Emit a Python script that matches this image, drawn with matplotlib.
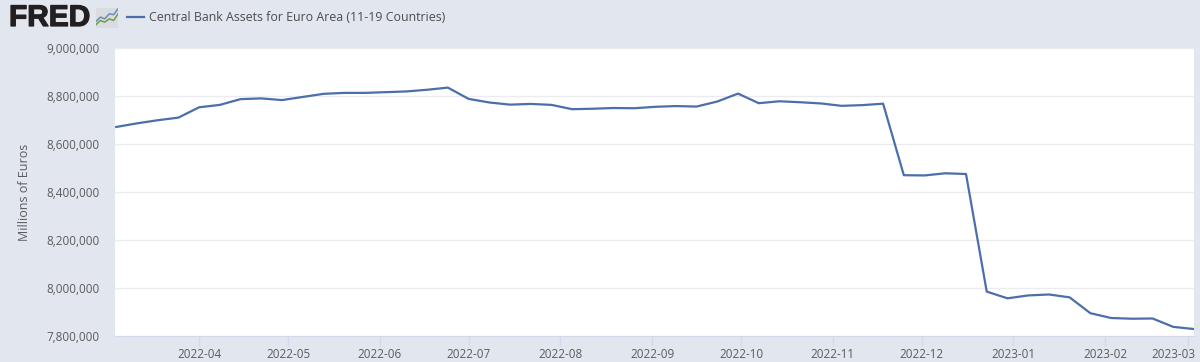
import numpy as np
import pandas as pd
import matplotlib
matplotlib.use("Agg")
import matplotlib.pyplot as plt
import matplotlib.dates as mdates
import matplotlib.patheffects as pe
from matplotlib.ticker import FuncFormatter
from matplotlib.transforms import ScaledTranslation

plt.rcParams['font.family'] = ['Open Sans', 'DejaVu Sans']

# weekly values, millions of euros, first date 2022-03-04
start_date = "2022-03-04"
assets = [8671, 8686, 8699, 8710, 8753, 8763, 8787, 8790, 8783, 8796,
          8809, 8813, 8813, 8816, 8819, 8826, 8835, 8788, 8773, 8764,
          8767, 8763, 8745, 8747, 8750, 8749, 8755, 8758, 8756, 8777,
          8810, 8770, 8778, 8774, 8769, 8759, 8762, 8768, 8470, 8469,
          8478, 8475, 7985, 7957, 7969, 7973, 7961, 7895, 7875, 7872,
          7873, 7838, 7829]
assets = np.array(assets) * 1000
dates = pd.date_range(start_date, periods=len(assets), freq="7D")

y_ticks = [7800000, 8000000, 8200000, 8400000, 8600000, 8800000, 9000000]
x_ticks = pd.date_range("2022-04-01", "2023-03-01", freq="MS")

bg = "#e1e6ef"
line_col = "#4c6eaa"
text_col = "#5c5c5c"
W, H = 1200, 362

fig = plt.figure(figsize=(12, 3.62), dpi=100, facecolor=bg)
ax = fig.add_axes([115/W, 1-336/H, (1194-115)/W, (336-48)/H])
ax.plot(dates, assets, color=line_col, lw=1.6, solid_joinstyle="round")

ax.set_xlim(dates[0] - pd.Timedelta(hours=10), dates[-1])
ax.set_ylim(7800000, 9000000)
ax.set_yticks(y_ticks)
ax.yaxis.set_major_formatter(FuncFormatter(lambda v, p: f"{int(v):,}"))
ax.set_xticks(x_ticks)
ax.xaxis.set_major_formatter(mdates.DateFormatter("%Y-%m"))
ax.grid(axis="y", color="#ebebf0", lw=1)
ax.set_axisbelow(True)
for s in ["top", "right", "left"]:
    ax.spines[s].set_visible(False)
ax.spines["bottom"].set_color("#d3d9ea")
ax.tick_params(axis="y", length=0, pad=11, labelsize=8.4, labelcolor=text_col)
ax.tick_params(axis="x", length=7.5, width=1, color="#d3d9ea", pad=1.5, labelsize=8.4, labelcolor=text_col)
# the last label sits left of its tick in the original
last = ax.get_xticklabels()[-1]
last.set_transform(last.get_transform() + ScaledTranslation(-15/100, 0, fig.dpi_scale_trans))
ax.set_ylabel("Millions of Euros", fontsize=9, color=text_col)
ax.yaxis.set_label_coords(-(115-31)/(1194-115), 0.5)

# header: logo and legend
logo = fig.text(9/W, 1-18/H, "FRED", fontsize=21.5, fontweight="bold", family="Liberation Sans",
                color="#231f20", va="center", ha="left")
logo.set_path_effects([pe.withStroke(linewidth=0.9, foreground="#231f20")])
icon = fig.add_axes([96/W, 1-28/H, 22/W, 20/H], facecolor="#d9dde1")
icon.plot([0, 2, 4, 6, 8, 10], [4, 6.5, 5.5, 8.5, 8, 11.5], color="#6f8ab5", lw=1.1)
icon.plot([0, 2, 4, 6, 8, 10], [2, 4.5, 3.5, 5.5, 4.5, 8.5], color="#6f9f45", lw=1.1)
icon.set_xlim(0, 10)
icon.set_ylim(0, 12)
icon.set_xticks([])
icon.set_yticks([])
for s in icon.spines.values():
    s.set_visible(False)

fig.add_artist(plt.Line2D([127/W, 144/W], [1-17/H, 1-17/H], color=line_col, lw=1.6))
fig.text(149/W, 1-17.5/H, "Central Bank Assets for Euro Area (11-19 Countries)",
         fontsize=8.9, color="#4d4d4d", va="center", ha="left")

fig.savefig("out.png", dpi=100, facecolor=bg)
